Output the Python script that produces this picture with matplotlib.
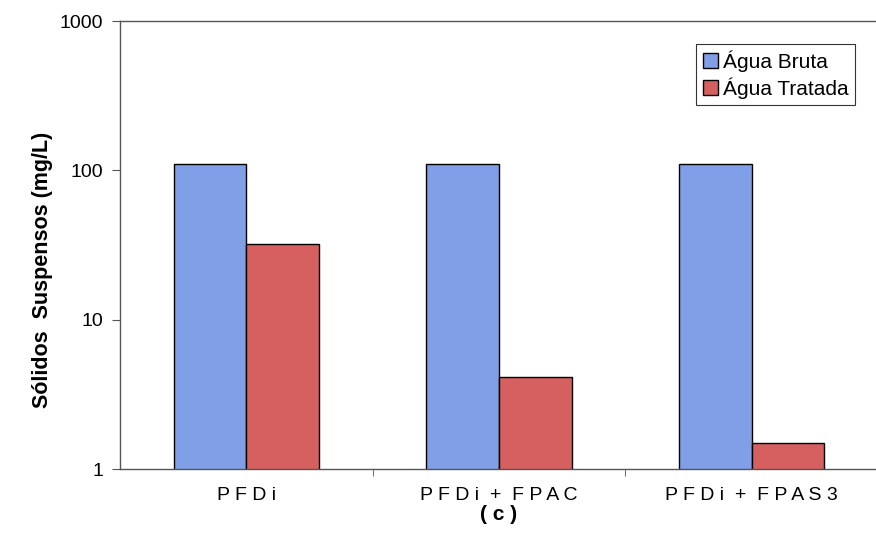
import numpy as np
import matplotlib.pyplot as plt

plt.rcParams['font.family'] = ['Liberation Sans', 'DejaVu Sans']

# suspended solids per treatment line
categorias = ["P F D i", "P F D i  +  F P A C", "P F D i  +  F P A S 3"]
agua_bruta = [110, 110, 111]
agua_tratada = [32, 4.1, 1.5]

fig = plt.figure(figsize=(8.76, 5.5), dpi=100)
ax = fig.add_axes([120 / 876, 1 - 469 / 550, 758 / 876, 448 / 550])

x = np.arange(len(categorias))
w = 0.287
ax.bar(x - w / 2, agua_bruta, w, color='#809fe6', edgecolor='black', linewidth=1.0,
       label='Água Bruta')
ax.bar(x + w / 2, agua_tratada, w, color='#d5605f', edgecolor='black', linewidth=1.0,
       label='Água Tratada')

ax.set_yscale('log')
ax.set_ylim(1, 1000)
ax.set_xlim(-0.5, 2.5)
ax.set_yticks([1, 10, 100, 1000])
ax.set_yticklabels(['1', '10', '100', '1000'])
ax.yaxis.set_minor_locator(plt.NullLocator())

# category labels centred, tick marks between groups
ax.set_xticks(x)
ax.set_xticklabels(categorias)
ax.tick_params(axis='x', length=0, pad=13, labelsize=14)
ax.set_xticks([0.5, 1.5], minor=True)
ax.tick_params(axis='x', which='minor', length=5, direction='out', color='#555555')
ax.tick_params(axis='y', length=6, direction='out', labelsize=14, pad=6, color='#555555')

for s in ['left', 'bottom', 'top']:
    ax.spines[s].set_color('#555555')
    ax.spines[s].set_linewidth(1.0)
ax.spines['right'].set_visible(False)

ax.set_ylabel('Sólidos  Suspensos (mg/L)', fontsize=15.5, fontweight='bold')
ax.yaxis.set_label_coords(-0.088, 0.444)
ax.set_xlabel('( c )', fontsize=15, fontweight='bold', labelpad=1)

leg = ax.legend(loc='upper right', bbox_to_anchor=(0.97, 0.948), fontsize=15,
                frameon=True, fancybox=False, borderpad=0.3, handlelength=0.75,
                handleheight=0.7, handletextpad=0.25, labelspacing=0.25,
                borderaxespad=0)
leg.get_frame().set_edgecolor('black')
leg.get_frame().set_linewidth(0.8)

fig.savefig('out.png', dpi=100)
